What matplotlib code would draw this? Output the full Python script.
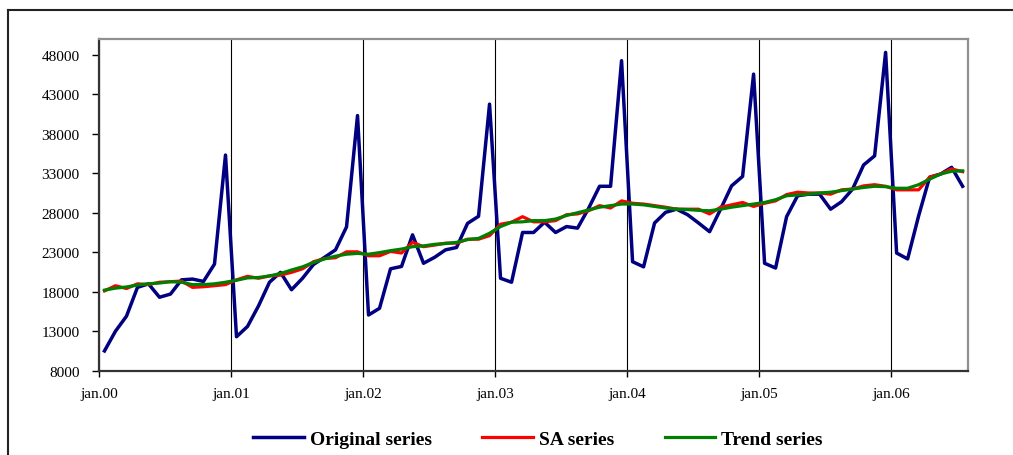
import numpy as np
import matplotlib
matplotlib.use("Agg")
import matplotlib.pyplot as plt
from matplotlib.lines import Line2D

# -----------------------------
# Data (monthly, jan.00 - jul.06)
# -----------------------------
original = [
    10500, 13000, 14900, 18550, 19000, 17300, 17700, 19500, 19600, 19300, 21500, 35300,
    12300, 13600, 16200, 19200, 20450, 18250, 19700, 21450, 22350, 23300, 26200, 40300,
    15050, 15900, 20900, 21200, 25200, 21600, 22350, 23300, 23600, 26650, 27550, 41750,
    19700, 19200, 25500, 25500, 26800, 25500, 26250, 26050, 28550, 31350, 31350, 47250,
    21800, 21150, 26700, 28050, 28450, 27750, 26700, 25600, 28450, 31400, 32600, 45550,
    21600, 21000, 27500, 30150, 30350, 30350, 28450, 29400, 31000, 34050, 35200, 48300,
    22900, 22150, 27600, 32500, 32900, 33750, 31350,
]

sa = [
    18100, 18760, 18400, 19000, 18900, 19200, 19270, 19350, 18550, 18630, 18760, 18900,
    19500, 19950, 19700, 20000, 20100, 20450, 20900, 21800, 22200, 22300, 23050, 23050,
    22550, 22550, 23100, 22900, 24250, 23700, 23900, 24150, 24150, 24650, 24650, 25100,
    26550, 26800, 27500, 26850, 26850, 27000, 27750, 27850, 28250, 28900, 28600, 29500,
    29200, 29100, 28900, 28700, 28450, 28450, 28450, 27850, 28700, 29000, 29300, 28800,
    29200, 29500, 30300, 30600, 30500, 30500, 30350, 30900, 31000, 31400, 31550, 31350,
    30900, 30900, 30900, 32500, 32900, 33550, 33200,
]

trend = [
    18200, 18450, 18600, 18850, 19000, 19100, 19270, 19200, 18900, 18900, 19000, 19200,
    19450, 19750, 19800, 20000, 20300, 20750, 21150, 21700, 22150, 22500, 22750, 22850,
    22750, 22950, 23200, 23400, 23700, 23800, 24000, 24100, 24250, 24600, 24750, 25400,
    26250, 26800, 26850, 27000, 27000, 27200, 27650, 28000, 28350, 28700, 28900, 29100,
    29100, 29000, 28800, 28600, 28450, 28400, 28300, 28250, 28450, 28700, 28900, 29100,
    29300, 29650, 30150, 30250, 30350, 30500, 30600, 30800, 31000, 31200, 31350, 31300,
    31100, 31100, 31550, 32250, 32900, 33250, 33300,
]

year_labels = ["jan.00", "jan.01", "jan.02", "jan.03", "jan.04", "jan.05", "jan.06"]
y_ticks = [8000, 13000, 18000, 23000, 28000, 33000, 38000, 43000, 48000]

months = np.arange(len(original))

# -----------------------------
# Figure
# -----------------------------
fig = plt.figure(figsize=(10.13, 4.56), dpi=100)
ax = fig.add_axes([0.0977, 0.1849, 0.858, 0.7274])

ax.plot(months, original, color="#000080", lw=2.5, label="Original series")
ax.plot(months, sa, color="#ff0000", lw=2.3, label="SA series")
ax.plot(months, trend, color="#008000", lw=2.3, label="Trend series")

ax.set_xlim(-0.5, len(original) - 0.5)
ax.set_ylim(8000, 50000)

ax.set_xticks(np.arange(len(year_labels)) * 12 - 0.5)
ax.set_xticklabels(year_labels)
ax.set_yticks(y_ticks)
ax.set_yticklabels([str(v) for v in y_ticks])

ax.grid(axis="x", color="black", lw=0.8)
ax.set_axisbelow(True)

for lab in ax.get_xticklabels() + ax.get_yticklabels():
    lab.set_family("Liberation Serif")
    lab.set_fontsize(11)

ax.tick_params(axis="y", direction="out", length=5, width=1, pad=9)
ax.tick_params(axis="x", direction="out", length=4, width=1, pad=8)

for side in ["left", "bottom"]:
    ax.spines[side].set_color("#333333")
    ax.spines[side].set_linewidth(1.6)
for side in ["top", "right"]:
    ax.spines[side].set_color("#909090")
    ax.spines[side].set_linewidth(1.6)

leg = fig.legend(loc="center", bbox_to_anchor=(0.531, 0.035), ncol=3, frameon=False,
                 prop={"family": "Liberation Serif", "weight": "bold", "size": 14},
                 handlelength=2.6, handletextpad=0.3, columnspacing=2.6)

# outer chart frame (top and left edges)
fig.add_artist(Line2D([8 / 1013, 1], [1 - 11 / 456, 1 - 11 / 456],
                      transform=fig.transFigure, color="#222222", lw=1.5))
fig.add_artist(Line2D([8 / 1013, 8 / 1013], [0, 1 - 11 / 456],
                      transform=fig.transFigure, color="#222222", lw=1.5))

fig.savefig("out.png", dpi=100)
